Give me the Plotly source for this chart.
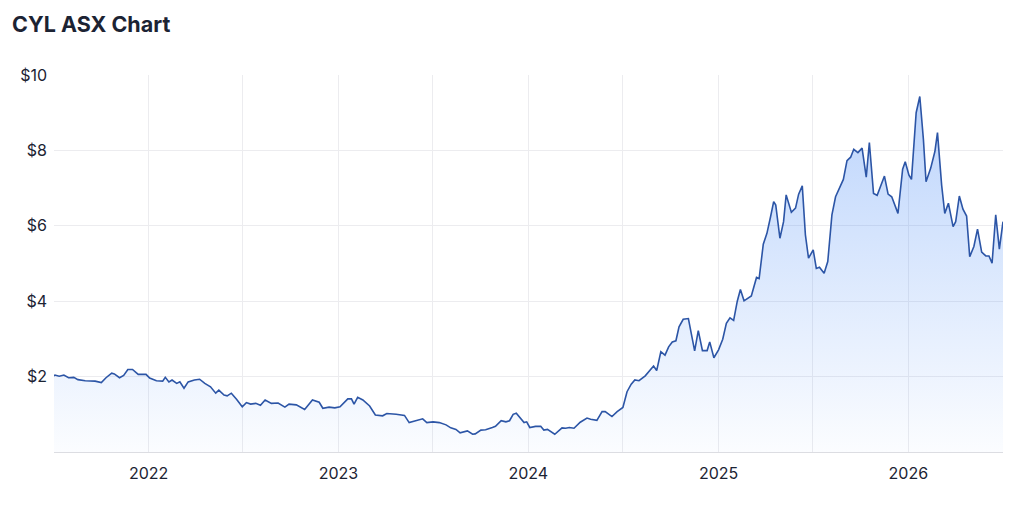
import plotly.graph_objects as go

# CYL weekly closing price
dates = [
    "2021-07-03", "2021-07-05", "2021-07-13", "2021-07-22", "2021-07-31", "2021-08-10", "2021-08-18",
    "2021-09-01", "2021-09-20", "2021-10-02", "2021-10-11", "2021-10-22", "2021-10-27", "2021-11-06",
    "2021-11-14", "2021-11-22", "2021-12-01", "2021-12-12", "2021-12-27", "2022-01-03", "2022-01-16",
    "2022-01-28", "2022-02-02", "2022-02-09", "2022-02-15", "2022-02-24", "2022-03-02", "2022-03-10",
    "2022-03-18", "2022-03-30", "2022-04-09", "2022-04-19", "2022-04-30", "2022-05-10", "2022-05-16",
    "2022-05-26", "2022-06-01", "2022-06-09", "2022-06-19", "2022-06-30", "2022-07-08", "2022-07-16",
    "2022-07-26", "2022-08-04", "2022-08-13", "2022-08-25", "2022-09-07", "2022-09-20", "2022-09-28",
    "2022-10-12", "2022-10-28", "2022-11-12", "2022-11-25", "2022-12-02", "2022-12-14", "2022-12-25",
    "2023-01-04", "2023-01-19", "2023-01-26", "2023-01-31", "2023-02-07", "2023-02-17", "2023-03-02",
    "2023-03-13", "2023-03-27", "2023-04-04", "2023-04-22", "2023-05-08", "2023-05-17", "2023-05-30",
    "2023-06-12", "2023-06-20", "2023-07-02", "2023-07-14", "2023-07-27", "2023-08-05", "2023-08-15",
    "2023-08-23", "2023-09-06", "2023-09-16", "2023-09-21", "2023-10-02", "2023-10-11", "2023-10-24",
    "2023-10-30", "2023-11-10", "2023-11-19", "2023-11-26", "2023-12-03", "2023-12-09", "2023-12-17",
    "2023-12-24", "2023-12-29", "2024-01-04", "2024-01-15", "2024-01-25", "2024-01-31", "2024-02-07",
    "2024-02-21", "2024-03-06", "2024-03-13", "2024-03-20", "2024-03-29", "2024-04-10", "2024-04-23",
    "2024-04-30", "2024-05-12", "2024-05-22", "2024-05-28", "2024-06-10", "2024-06-20", "2024-07-01",
    "2024-07-09", "2024-07-17", "2024-07-24", "2024-08-01", "2024-08-13", "2024-08-29", "2024-09-04",
    "2024-09-12", "2024-09-20", "2024-09-27", "2024-10-04", "2024-10-11", "2024-10-17", "2024-10-25",
    "2024-11-04", "2024-11-16", "2024-11-23", "2024-12-01", "2024-12-10", "2024-12-15", "2024-12-23",
    "2025-01-01", "2025-01-09", "2025-01-16", "2025-01-23", "2025-01-30", "2025-02-06", "2025-02-12",
    "2025-02-19", "2025-03-05", "2025-03-15", "2025-03-20", "2025-03-28", "2025-04-04", "2025-04-11",
    "2025-04-17", "2025-04-21", "2025-04-29", "2025-05-06", "2025-05-11", "2025-05-21", "2025-05-29",
    "2025-06-04", "2025-06-11", "2025-06-17", "2025-06-23", "2025-07-02", "2025-07-08", "2025-07-14",
    "2025-07-23", "2025-07-30", "2025-08-07", "2025-08-14", "2025-08-22", "2025-08-29", "2025-09-05",
    "2025-09-12", "2025-09-18", "2025-09-26", "2025-10-04", "2025-10-12", "2025-10-18", "2025-10-26",
    "2025-11-02", "2025-11-16", "2025-11-23", "2025-11-30", "2025-12-12", "2025-12-21", "2025-12-26",
    "2026-01-02", "2026-01-07", "2026-01-16", "2026-01-23", "2026-01-30", "2026-02-04", "2026-02-13",
    "2026-02-21", "2026-02-26", "2026-03-06", "2026-03-12", "2026-03-19", "2026-03-28", "2026-04-02",
    "2026-04-09", "2026-04-16", "2026-04-23", "2026-04-29", "2026-05-07", "2026-05-14", "2026-05-22",
    "2026-05-30", "2026-06-05", "2026-06-11", "2026-06-18", "2026-06-25", "2026-07-02",
]
prices = [
    2.02, 2.04, 2.01, 2.04, 1.97, 1.98, 1.92,
    1.89, 1.88, 1.84, 1.97, 2.09, 2.07, 1.97,
    2.03, 2.19, 2.19, 2.06, 2.06, 1.96, 1.89,
    1.88, 1.98, 1.86, 1.91, 1.82, 1.86, 1.69,
    1.86, 1.91, 1.93, 1.82, 1.73, 1.56, 1.64,
    1.51, 1.49, 1.56, 1.40, 1.20, 1.31, 1.27,
    1.29, 1.24, 1.38, 1.29, 1.30, 1.19, 1.27,
    1.25, 1.13, 1.38, 1.32, 1.16, 1.19, 1.17,
    1.20, 1.41, 1.41, 1.27, 1.45, 1.38, 1.22,
    0.98, 0.96, 1.02, 1.00, 0.97, 0.78, 0.83,
    0.88, 0.78, 0.80, 0.78, 0.72, 0.64, 0.60,
    0.51, 0.56, 0.47, 0.48, 0.58, 0.59, 0.65,
    0.68, 0.83, 0.80, 0.83, 1.00, 1.03, 0.91,
    0.78, 0.80, 0.65, 0.68, 0.68, 0.58, 0.60,
    0.47, 0.64, 0.63, 0.65, 0.63, 0.79, 0.90,
    0.87, 0.84, 1.07, 1.07, 0.94, 1.07, 1.18,
    1.60, 1.80, 1.91, 1.89, 2.02, 2.28, 2.16,
    2.66, 2.57, 2.79, 2.92, 2.95, 3.32, 3.52,
    3.54, 2.68, 3.22, 2.69, 2.69, 2.92, 2.50,
    2.71, 2.99, 3.41, 3.56, 3.49, 4.00, 4.31,
    4.01, 4.14, 4.63, 4.60, 5.51, 5.80, 6.24,
    6.64, 6.55, 5.67, 6.11, 6.82, 6.36, 6.47,
    6.84, 7.06, 5.76, 5.14, 5.36, 4.87, 4.90,
    4.74, 5.05, 6.29, 6.77, 7.00, 7.23, 7.73,
    7.82, 8.03, 7.94, 8.06, 7.29, 8.21, 6.86,
    6.81, 7.32, 6.84, 6.77, 6.33, 7.50, 7.70,
    7.35, 7.23, 9.00, 9.43, 8.28, 7.17, 7.53,
    7.97, 8.47, 7.08, 6.33, 6.60, 5.98, 6.11,
    6.79, 6.44, 6.26, 5.18, 5.45, 5.91, 5.30,
    5.20, 5.20, 5.01, 6.29, 5.38, 6.11,
]

y_ticks = [2, 4, 6, 8, 10]
y_labels = ["$2", "$4", "$6", "$8", "$10"]

TEXT = "#1c2333"
GRID = "#ececef"

fig = go.Figure()
fig.add_trace(go.Scatter(
    x=dates,
    y=prices,
    mode="lines",
    line=dict(color="#2c55a6", width=1.6),
    fill="tozeroy",
    fillgradient=dict(
        type="vertical",
        start=0,
        stop=10,
        colorscale=[[0, "rgba(59,130,246,0.02)"], [1, "rgba(59,130,246,0.36)"]],
    ),
    hoverinfo="skip",
))

# the page body adds an 8px offset, so margins are trimmed to match
fig.update_layout(
    width=1024,
    height=505,
    margin=dict(l=42, r=29, t=67, b=61),
    paper_bgcolor="white",
    plot_bgcolor="white",
    showlegend=False,
    font=dict(family="Inter, Roboto, sans-serif", size=16, color=TEXT),
    title=dict(
        text="<b>CYL ASX Chart</b>",
        xref="container", x=0.004, xanchor="left",
        yref="container", y=0.968, yanchor="middle",
        font=dict(size=21.5, color=TEXT),
    ),
)

fig.update_xaxes(
    type="date",
    range=["2021-07-03", "2026-07-02"],
    tick0="2022-01-01",
    dtick="M12",
    tickformat="%Y",
    showgrid=True,
    gridcolor=GRID,
    minor=dict(dtick="M6", showgrid=True, gridcolor=GRID),
    showline=True,
    linecolor="#dcdde2",
    ticks="",
    ticklabelstandoff=7,
    zeroline=False,
)

fig.update_yaxes(
    range=[0, 10],
    tickvals=y_ticks,
    ticktext=y_labels,
    showgrid=True,
    gridcolor=GRID,
    zeroline=False,
    ticks="",
    ticklabelstandoff=6,
)

fig.write_html("out.html")
